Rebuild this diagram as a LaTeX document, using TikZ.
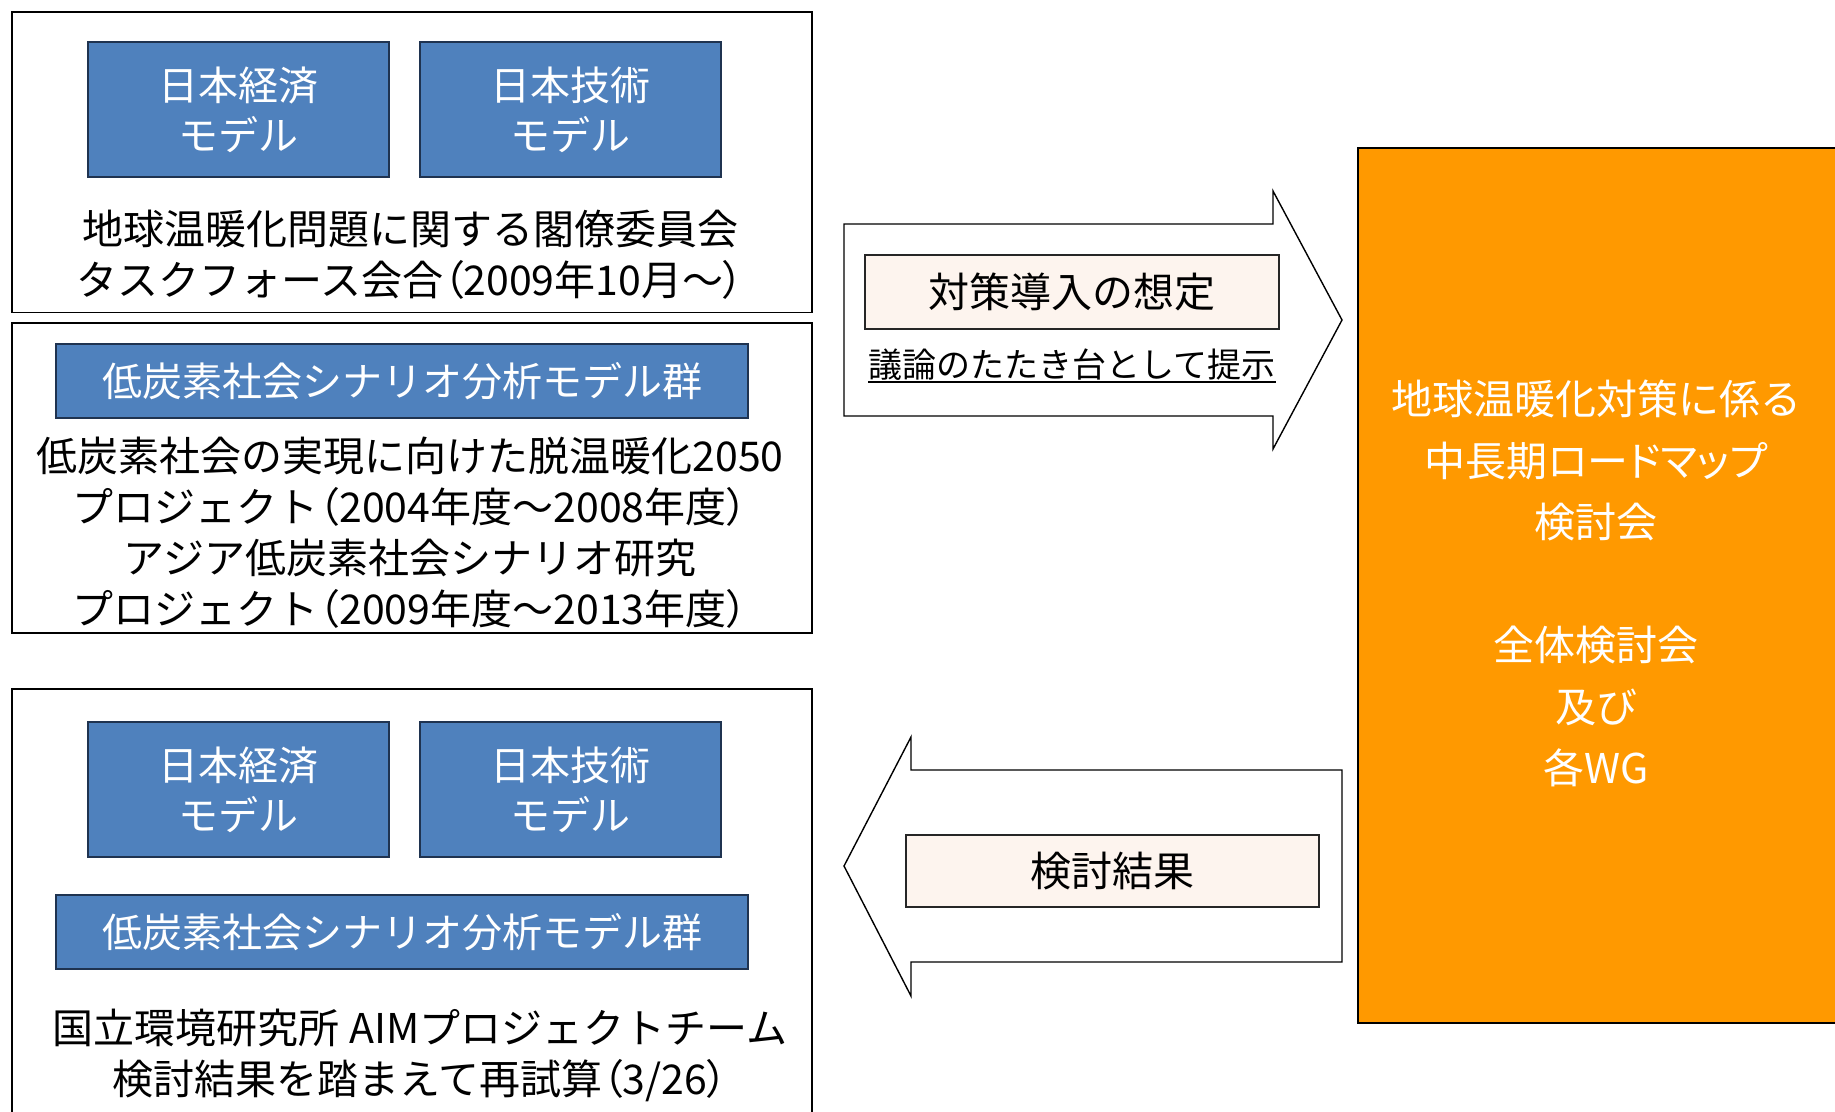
\documentclass[tikz,border=0pt]{standalone}
\usepackage{fontspec}
\setmainfont{Noto Sans CJK JP}
\newcommand{\pp}[1]{{\addfontfeature{RawFeature=+palt}#1}}
\definecolor{bluebox}{HTML}{4F81BD}
\definecolor{blueedge}{HTML}{1F3350}
\definecolor{orangebox}{HTML}{FF9900}
\definecolor{pinkbox}{HTML}{FDF4EE}
\begin{document}
\begin{tikzpicture}[x=1pt,y=-1pt,
  frame/.style={draw=black, line width=1.6pt, fill=white},
  model/.style={draw=blueedge, line width=2pt, fill=bluebox, text=white, align=center,
    font=\fontsize{40}{50}\selectfont, inner sep=0pt},
  caption/.style={align=center, font=\fontsize{41}{51}\selectfont, inner sep=0pt},
  pinklabel/.style={draw=black!85, line width=1.6pt, fill=pinkbox, inner sep=0pt,
    font=\fontsize{41}{50}\selectfont},
  blockarrow/.style={draw=black, line width=1.4pt, fill=white, line join=miter},
  orangetext/.style={text=white, align=center, font=\fontsize{41}{61.5}\selectfont, inner sep=0pt}
]
\useasboundingbox (0,0) rectangle (1835,1111);
\clip (0,0) rectangle (1835,1111);
\fill[white] (0,0) rectangle (1835,1111);

% left frames
\draw[frame] (11.7,11.7) rectangle (812,312.5);
\draw[frame] (11.7,323) rectangle (812,633);
\draw[frame] (11.7,689) rectangle (812,1140);

% box 1
\node[model, minimum width=301, minimum height=135] (econ1) at (238.5,109.5) {日本経済\\モデル};
\node[model, minimum width=301, minimum height=135] (tech1) at (570.5,109.5) {日本技術\\モデル};
\node[caption] (cap1) at (410,255) {地球温暖化問題に関する閣僚委員会\\タスクフォース会合\pp{（}2009年10月～\pp{）}};

% box 2
\node[model, minimum width=692, minimum height=74] (lcs1) at (402,381) {低炭素社会シナリオ分析モデル群};
\node[caption] (cap2) at (410,532.5) {低炭素社会の実現に向けた脱温暖化2050\\プロジェクト\pp{（}2004年度～2008年度\pp{）}\\アジア低炭素社会シナリオ研究\\プロジェクト\pp{（}2009年度～2013年度\pp{）}};

% box 3
\node[model, minimum width=301, minimum height=135] (econ2) at (238.5,789.5) {日本経済\\モデル};
\node[model, minimum width=301, minimum height=135] (tech2) at (570.5,789.5) {日本技術\\モデル};
\node[model, minimum width=692, minimum height=74] (lcs2) at (402,932) {低炭素社会シナリオ分析モデル群};
\node[caption] (cap3) at (420,1055.5) {国立環境研究所 AIMプロジェクトチーム\\検討結果を踏まえて再試算\pp{（}3/26\pp{）}};

% orange box
\node[draw=black, line width=2pt, fill=orangebox, minimum width=493, minimum height=875, anchor=north west, inner sep=0pt] (road) at (1357,147) {};
\node[orangetext] (roadtext) at (1596,583.5) {地球温暖化対策に係る\\\pp{中長期ロードマップ}\\検討会\\[61.5pt]全体検討会\\及び\\各WG};

% right block arrow
\draw[blockarrow] (844,224) -- (1273,224) -- (1273,191) -- (1342,320) -- (1273,449) -- (1273,416) -- (844,416) -- cycle;
\coordinate (rtip) at (1342,320);
\node[pinklabel, minimum width=414, minimum height=74] (assume) at (1072,292) {対策導入の想定};
\node[inner sep=0pt, font=\fontsize{34}{40}\selectfont] (present) at (1072,365) {議論のたたき台として提示};
\draw[line width=2pt] ([yshift=-4.5pt]present.base west) -- ([yshift=-4.5pt]present.base east);

% left block arrow
\draw[blockarrow] (1342,770) -- (911,770) -- (911,737) -- (844,866) -- (911,996) -- (911,962) -- (1342,962) -- cycle;
\coordinate (ltip) at (844,866);
\node[pinklabel, minimum width=413, minimum height=72] (result) at (1112.5,871) {検討結果};
\end{tikzpicture}
\end{document}
